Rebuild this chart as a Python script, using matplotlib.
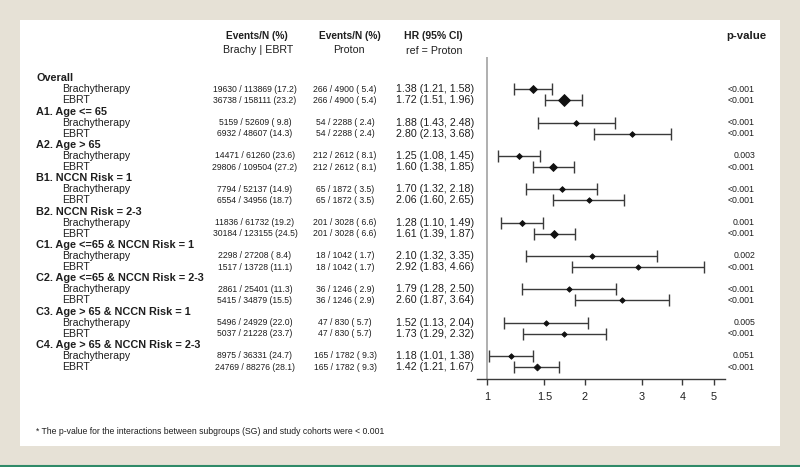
import matplotlib
matplotlib.use("Agg")
import matplotlib.pyplot as plt
import matplotlib.transforms as mtransforms
from matplotlib.patches import Rectangle
from matplotlib.lines import Line2D
import numpy as np

plt.rcParams['font.family'] = ['Liberation Sans', 'DejaVu Sans']

# ---- data ----
groups = ["Overall", "A1. Age <= 65", "A2. Age > 65", "B1. NCCN Risk = 1",
          "B2. NCCN Risk = 2-3", "C1. Age <=65 & NCCN Risk = 1",
          "C2. Age <=65 & NCCN Risk = 2-3", "C3. Age > 65 & NCCN Risk = 1",
          "C4. Age > 65 & NCCN Risk = 2-3"]
cohorts = ["Brachytherapy", "EBRT"]

brachy_events = [19630, 5159, 14471, 7794, 11836, 2298, 2861, 5496, 8975]
brachy_n = [113869, 52609, 61260, 52137, 61732, 27208, 25401, 24929, 36331]
brachy_pct = [17.2, 9.8, 23.6, 14.9, 19.2, 8.4, 11.3, 22.0, 24.7]
ebrt_events = [36738, 6932, 29806, 6554, 30184, 1517, 5415, 5037, 24769]
ebrt_n = [158111, 48607, 109504, 34956, 123155, 13728, 34879, 21228, 88276]
ebrt_pct = [23.2, 14.3, 27.2, 18.7, 24.5, 11.1, 15.5, 23.7, 28.1]
proton_events = [266, 54, 212, 65, 201, 18, 36, 47, 165]
proton_n = [4900, 2288, 2612, 1872, 3028, 1042, 1246, 830, 1782]
proton_pct = [5.4, 2.4, 8.1, 3.5, 6.6, 1.7, 2.9, 5.7, 9.3]

brachy_hr = [1.38, 1.88, 1.25, 1.70, 1.28, 2.10, 1.79, 1.52, 1.18]
brachy_lo = [1.21, 1.43, 1.08, 1.32, 1.10, 1.32, 1.28, 1.13, 1.01]
brachy_hi = [1.58, 2.48, 1.45, 2.18, 1.49, 3.35, 2.50, 2.04, 1.38]
ebrt_hr = [1.72, 2.80, 1.60, 2.06, 1.61, 2.92, 2.60, 1.73, 1.42]
ebrt_lo = [1.51, 2.13, 1.38, 1.60, 1.39, 1.83, 1.87, 1.29, 1.21]
ebrt_hi = [1.96, 3.68, 1.85, 2.65, 1.87, 4.66, 3.64, 2.32, 1.67]

brachy_p = ["<0.001", "<0.001", "0.003", "<0.001", "0.001", "0.002", "<0.001", "0.005", "0.051"]
ebrt_p = ["<0.001"] * 9

xticks = [1, 1.5, 2, 3, 4, 5]
xticklabels = ["1", "1.5", "2", "3", "4", "5"]
footnote = "* The p-value for the interactions between subgroups (SG) and study cohorts were < 0.001"

W, H = 800, 467
BG = '#e6e1d6'
TXT = '#1e1e1e'
LINE = '#3a3a3a'

fig = plt.figure(figsize=(W / 100, H / 100), dpi=100, facecolor=BG)
fig.add_artist(Rectangle((20 / W, 1 - 446 / H), 760 / W, 426 / H,
                         transform=fig.transFigure, facecolor='white',
                         edgecolor='none', zorder=0))
fig.add_artist(Line2D([0, 1], [1.5 / H, 1.5 / H], transform=fig.transFigure,
                      color='#2f8a68', lw=1.5))

def fx(px):
    return px / W

def fy(px):
    return 1 - px / H

ax = fig.add_axes([fx(477), fy(379), 248 / W, (379 - 57) / H])
ax.set_facecolor('none')
ax.set_xscale('log')
ax.set_xlim(0.93, 5.41)
ax.set_ylim(27.07, -1.91)
for s in ['top', 'right', 'left']:
    ax.spines[s].set_visible(False)
ax.spines['bottom'].set_color(LINE)
ax.spines['bottom'].set_linewidth(1.0)
ax.set_yticks([])
ax.set_xticks(xticks)
ax.set_xticklabels(xticklabels)
ax.xaxis.set_minor_locator(matplotlib.ticker.NullLocator())
ax.tick_params(axis='x', length=4, width=1, color=LINE, labelsize=7.8,
               labelcolor=TXT, pad=5)
ax.axvline(1, color='#9a9a9a', lw=1.1, zorder=1)

trans = mtransforms.blended_transform_factory(fig.transFigure, ax.transData)

# column headers
fig.text(fx(257), fy(36), "Events/N (%)", ha='center', va='center', fontsize=7.3, fontweight='bold', color=TXT)
fig.text(fx(258), fy(50), "Brachy | EBRT", ha='center', va='center', fontsize=7.7, color=TXT)
fig.text(fx(350), fy(36), "Events/N (%)", ha='center', va='center', fontsize=7.3, fontweight='bold', color=TXT)
fig.text(fx(349), fy(50), "Proton", ha='center', va='center', fontsize=7.7, color=TXT)
fig.text(fx(433.5), fy(36), "HR (95% CI)", ha='center', va='center', fontsize=7.5, fontweight='bold', color=TXT)
fig.text(fx(434), fy(50.5), "ref = Proton", ha='center', va='center', fontsize=7.7, color=TXT)
fig.text(fx(746), fy(36), "p-value", ha='center', va='center', fontsize=8.2, fontweight='bold', color=TXT)

nmax = max(ebrt_n + brachy_n)

for i, g in enumerate(groups):
    r0 = 3 * i
    fig.text(fx(36.5), r0, g, transform=trans, ha='left', va='center',
             fontsize=7.8, fontweight='bold', color=TXT)
    rows = [
        (brachy_events[i], brachy_n[i], brachy_pct[i], brachy_hr[i], brachy_lo[i], brachy_hi[i], brachy_p[i]),
        (ebrt_events[i], ebrt_n[i], ebrt_pct[i], ebrt_hr[i], ebrt_lo[i], ebrt_hi[i], ebrt_p[i]),
    ]
    for j, (ev, n, pct, hr, lo, hi, p) in enumerate(rows):
        y = r0 + 1 + j
        fig.text(fx(62), y, cohorts[j], transform=trans, ha='left', va='center',
                 fontsize=7.6, color=TXT)
        fig.text(fx(255), y, f"{ev} / {n} ({pct:4.1f})", transform=trans,
                 ha='center', va='center', fontsize=6.2, color=TXT)
        fig.text(fx(345), y, f"{proton_events[i]} / {proton_n[i]} ({proton_pct[i]:4.1f})",
                 transform=trans, ha='center', va='center', fontsize=6.2, color=TXT)
        fig.text(fx(396), y, f"{hr:.2f} ({lo:.2f}, {hi:.2f})", transform=trans,
                 ha='left', va='center', fontsize=7.7, color=TXT)
        fig.text(fx(755), y, p, transform=trans, ha='right', va='center',
                 fontsize=6.3, color=TXT)

        ax.errorbar([hr], [y], xerr=[[hr - lo], [hi - hr]], fmt='none',
                    ecolor=LINE, elinewidth=1.0, capsize=4.0, capthick=1.0, zorder=2)
        # diamond size grows with cohort size
        wpx = 6.0 + 6.3 * (n / nmax) ** 2.5
        ms = (wpx - 0.6) / 1.96
        ax.plot([hr], [y], marker='D', markersize=ms, color='#111111',
                markeredgewidth=0.6, linestyle='none', zorder=3)

fig.text(fx(36), fy(431.5), footnote, ha='left', va='center', fontsize=6.2, color=TXT)

fig.savefig('out.png', dpi=100, facecolor=BG)
